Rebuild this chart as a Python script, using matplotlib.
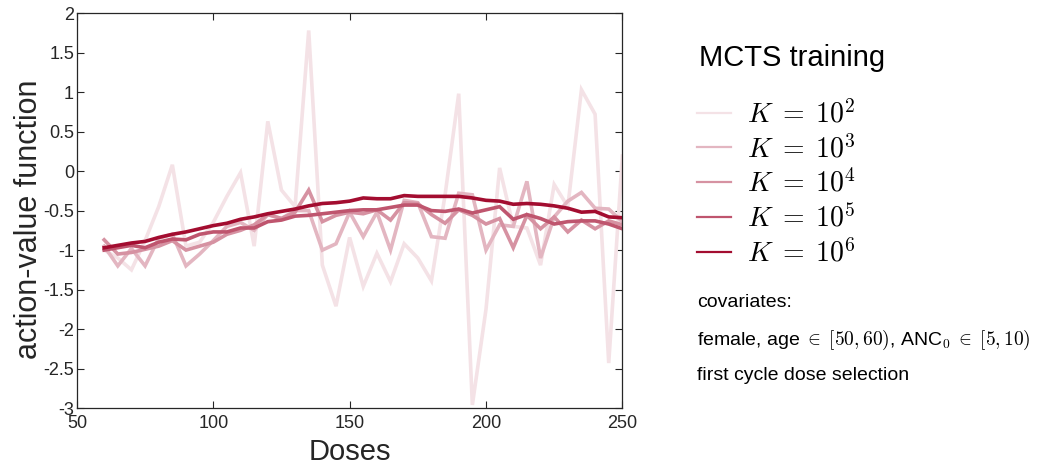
import numpy as np
import matplotlib as mpl
import matplotlib.pyplot as plt
from matplotlib.lines import Line2D

mpl.rc('font', family=['Liberation Sans', 'DejaVu Sans'])
mpl.rc('mathtext', fontset='cm')

doses = list(range(60, 251, 5))

q_k1e2 = [-1.0, -1.1, -1.25, -0.88, -0.45, 0.08, -0.95, -0.9, -0.65, -0.32,
          -0.02, -0.95, 0.63, -0.24, -0.45, 1.78, -1.19, -1.71, -0.84, -1.46,
          -1.04, -1.4, -0.92, -1.1, -1.39, -0.3, 0.98, -2.96, -1.75, 0.04,
          -0.7, -0.72, -1.19, -0.17, -0.45, 1.03, 0.72, -2.43, 0.19]
q_k1e3 = [-0.95, -1.2, -0.98, -1.2, -0.85, -0.8, -1.2, -1.05, -0.88, -0.7,
          -0.65, -0.75, -0.55, -0.6, -0.5, -0.5, -1.0, -0.92, -0.52, -0.83,
          -0.52, -1.0, -0.37, -0.4, -0.83, -0.85, -0.28, -0.3, -1.0, -0.68,
          -0.7, -0.13, -1.1, -0.58, -0.38, -0.27, -0.47, -0.48, -0.64]
q_k1e4 = [-0.87, -1.05, -1.03, -0.99, -0.95, -0.88, -1.0, -0.95, -0.9, -0.8,
          -0.75, -0.68, -0.55, -0.6, -0.52, -0.24, -0.64, -0.56, -0.52, -0.54,
          -0.49, -0.62, -0.4, -0.41, -0.55, -0.66, -0.49, -0.56, -0.67, -0.6,
          -0.97, -0.56, -0.73, -0.58, -0.77, -0.62, -0.73, -0.63, -0.68]
q_k1e5 = [-1.0, -0.97, -0.94, -0.97, -0.9, -0.86, -0.87, -0.8, -0.77, -0.77,
          -0.72, -0.72, -0.64, -0.62, -0.57, -0.56, -0.54, -0.52, -0.5, -0.49,
          -0.49, -0.46, -0.43, -0.43, -0.5, -0.51, -0.48, -0.53, -0.49, -0.45,
          -0.61, -0.55, -0.6, -0.67, -0.64, -0.63, -0.63, -0.67, -0.73]
q_k1e6 = [-0.97, -0.94, -0.91, -0.89, -0.84, -0.8, -0.77, -0.73, -0.69, -0.66,
          -0.61, -0.58, -0.54, -0.51, -0.48, -0.44, -0.41, -0.4, -0.38, -0.34,
          -0.35, -0.35, -0.31, -0.32, -0.32, -0.32, -0.32, -0.34, -0.37, -0.38,
          -0.42, -0.41, -0.42, -0.44, -0.47, -0.52, -0.51, -0.58, -0.59]

series = [q_k1e2, q_k1e3, q_k1e4, q_k1e5, q_k1e6]
labels = [r'$K\;=\;10^2$', r'$K\;=\;10^3$', r'$K\;=\;10^4$', r'$K\;=\;10^5$', r'$K\;=\;10^6$']
alphas = [0.12, 0.3, 0.45, 0.7, 1.0]
base = np.array([0.64, 0.05, 0.19])

yticks = [-3, -2.5, -2, -1.5, -1, -0.5, 0, 0.5, 1, 1.5, 2]
ytick_labels = ['-3', '-2.5', '-2', '-1.5', '-1', '-0.5', '0', '0.5', '1', '1.5', '2']
xticks = [50, 100, 150, 200, 250]

fig = plt.figure(figsize=(10.39, 4.68), dpi=100)
ax = fig.add_axes([0.074, 0.128, 0.525, 0.844])

axcol = '#262626'
# lighter shades of the same crimson for smaller K
colors = [1.0 - a * (1.0 - base) for a in alphas]

for vals, c in zip(series, colors):
    ax.plot(doses, vals, color=c, linewidth=2.6, solid_joinstyle='miter')

ax.set_xlim(50, 250)
ax.set_ylim(-3, 2)
ax.set_xticks(xticks)
ax.set_xticklabels([str(t) for t in xticks])
ax.set_yticks(yticks)
ax.set_yticklabels(ytick_labels)
ax.tick_params(direction='in', top=True, right=True, length=5, width=0.8,
               labelsize=13, colors=axcol, pad=2)
ax.tick_params(axis='x', pad=5)
for s in ax.spines.values():
    s.set_color(axcol)
    s.set_linewidth(0.9)

ax.set_xlabel('Doses', fontsize=21, color=axcol, labelpad=4)
ax.set_ylabel('action-value function', fontsize=22, color=axcol)
ax.yaxis.set_label_coords(-0.061, 0.478)

handles = [Line2D([], [], color=c, linewidth=1.6) for c in colors]
fig.legend(handles, labels, loc='upper left', bbox_to_anchor=(0.671, 0.787),
           frameon=False, fontsize=20, handlelength=1.2, handletextpad=0.6,
           labelspacing=0.22, borderaxespad=0, borderpad=0)

fig.text(0.673, 0.875, 'MCTS training', fontsize=21, va='center', ha='left')
fig.text(0.671, 0.354, 'covariates:', fontsize=14, va='center', ha='left')
fig.text(0.671, 0.273, r'female, age $\in\;[50, 60)$, ANC$_0\;\in\;[5, 10)$',
         fontsize=14, va='center', ha='left')
fig.text(0.671, 0.197, 'first cycle dose selection', fontsize=14, va='center', ha='left')

fig.savefig('out.png', dpi=100)
